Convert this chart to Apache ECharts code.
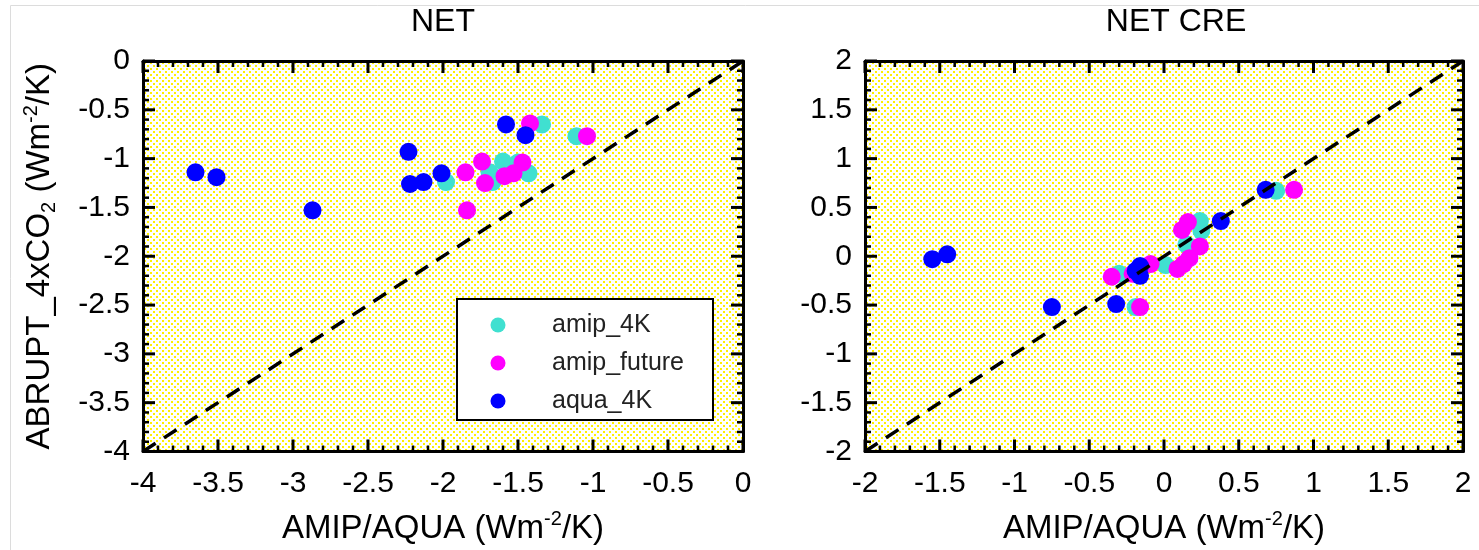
<!DOCTYPE html>
<html>
<head>
<meta charset="utf-8">
<script src="https://cdn.jsdelivr.net/npm/echarts@6/dist/echarts.min.js"></script>
<style>
  html, body { margin: 0; padding: 0; background: #fff; }
  #wrap { position: relative; width: 1479px; height: 550px; }
  #chart { position: absolute; left: 0; top: 0; width: 1479px; height: 550px; z-index: 1; }
  .panel-bg { position: absolute; z-index: 0; }
</style>
</head>
<body>
<div id="wrap">
  <div class="panel-bg" id="bg0"></div>
  <div class="panel-bg" id="bg1"></div>
  <div id="chart"></div>
</div>
<script>
// ---- data -------------------------------------------------------------
const seriesNames = ['amip_4K', 'amip_future', 'aqua_4K'];
const panelTitles = ['NET', 'NET CRE'];

// NET feedback (Wm-2/K): x = AMIP/AQUA experiment, y = abrupt 4xCO2
const netAmip4kX    = [-1.34, -1.11, -1.60, -1.50, -1.98, -1.69, -1.67, -1.43];
const netAmip4kY    = [-0.65, -0.77, -1.03, -1.04, -1.24, -1.14, -1.24, -1.15];
const netFutureX    = [-1.42, -1.04, -1.74, -1.47, -1.85, -1.72, -1.59, -1.53, -1.84];
const netFutureY    = [-0.64, -0.77, -1.03, -1.04, -1.14, -1.25, -1.18, -1.15, -1.53];
const netAqua4kX    = [-3.65, -3.51, -2.87, -2.23, -2.22, -2.13, -2.01, -1.58, -1.45];
const netAqua4kY    = [-1.14, -1.19, -1.53, -0.93, -1.26, -1.24, -1.15, -0.65, -0.76];

// NET CRE feedback (Wm-2/K)
const creAmip4kX    = [-0.19, -0.30, 0.01, 0.15, 0.24, 0.25, 0.75];
const creAmip4kY    = [-0.52, -0.18, -0.09, 0.12, 0.36, 0.26, 0.67];
const creFutureX    = [-0.16, -0.35, -0.21, -0.09, 0.09, 0.13, 0.17, 0.24, 0.16, 0.12, 0.87];
const creFutureY    = [-0.52, -0.21, -0.18, -0.08, -0.13, -0.08, -0.02, 0.10, 0.35, 0.27, 0.68];
const creAqua4kX    = [-1.55, -1.45, -0.75, -0.32, -0.19, -0.16, -0.16, 0.38, 0.68];
const creAqua4kY    = [-0.03, 0.02, -0.52, -0.49, -0.15, -0.10, -0.20, 0.36, 0.68];

// axis ranges and tick spacing
const netRange = [-4, 0];
const creRange = [-2, 2];
const tickStep = 0.5;
const minorStep = 0.1;

// ---- styling ------------------------------------------------------------
const FONT = 'Liberation Sans, Arial, Helvetica, sans-serif';
const colors = ['#40e0d0', '#ff00ff', '#0000ff'];

function zip(xs, ys) { return xs.map((x, i) => [x, ys[i]]); }

// tick positions along an axis range (every minorStep)
function tickValues(range) {
  const out = [];
  const n = Math.round((range[1] - range[0]) / minorStep);
  for (let i = 0; i <= n; i++) out.push(+(range[0] + i * minorStep).toFixed(3));
  return out;
}

// plotting boxes (layout only)
const boxes = [
  { left: 143, top: 61, width: 600, height: 392 },
  { left: 865, top: 61, width: 598, height: 392 }
];

// yellow dotted fill behind each plotting area
(function paintBackgrounds() {
  const c = document.createElement('canvas');
  c.width = 6; c.height = 6;
  const g = c.getContext('2d');
  g.fillStyle = '#ffffff';
  g.fillRect(0, 0, 6, 6);
  g.fillStyle = '#fff000';
  g.fillRect(1, 1, 2, 2);
  g.fillRect(4, 4, 2, 2);
  const url = c.toDataURL();
  boxes.forEach((b, i) => {
    const el = document.getElementById('bg' + i);
    el.style.left = b.left + 'px';
    el.style.top = b.top + 'px';
    el.style.width = b.width + 'px';
    el.style.height = b.height + 'px';
    el.style.backgroundImage = 'url(' + url + ')';
    el.style.backgroundRepeat = 'repeat';
  });
})();

const nameRich = {
  n:   { fontSize: 33, fontFamily: FONT, color: '#000', lineHeight: 38 },
  sup: { fontSize: 20, fontFamily: FONT, color: '#000', lineHeight: 20, verticalAlign: 'top' },
  sub: { fontSize: 20, fontFamily: FONT, color: '#000', lineHeight: 20, verticalAlign: 'bottom' }
};
const xName = '{n|AMIP/AQUA (Wm}{sup|-2}{n|/K)}';
const yName = '{n|ABRUPT_4xCO}{sub|2}{n| (Wm}{sup|-2}{n|/K)}';

function makeAxis(gridIndex, range, position, showLabels, name, nameGap) {
  const horizontal = (position === 'bottom' || position === 'top');
  const ax = {
    type: 'value',
    gridIndex: gridIndex,
    position: position,
    min: range[0],
    max: range[1],
    interval: tickStep,
    axisLine: { show: true, onZero: false, lineStyle: { color: '#000', width: 3 } },
    axisTick: { show: false },
    minorTick: { show: false },
    splitLine: { show: false },
    axisLabel: {
      show: showLabels, fontSize: 30, fontFamily: FONT, color: '#000',
      margin: horizontal ? 17 : 13
    }
  };
  if (name) {
    ax.name = name;
    ax.nameLocation = 'middle';
    ax.nameGap = nameGap;
    ax.nameTextStyle = { rich: nameRich };
  }
  return ax;
}

const grids = boxes.map(b => Object.assign({ show: false }, b));

const xAxes = [
  makeAxis(0, netRange, 'bottom', true, xName, 58),
  makeAxis(0, netRange, 'top', false),
  makeAxis(1, creRange, 'bottom', true, xName, 58),
  makeAxis(1, creRange, 'top', false)
];
const yAxes = [
  makeAxis(0, netRange, 'left', true, yName, 84),
  makeAxis(0, netRange, 'right', false),
  makeAxis(1, creRange, 'left', true),
  makeAxis(1, creRange, 'right', false)
];

function scatter(name, color, xi, yi, data) {
  return {
    type: 'scatter', name: name, xAxisIndex: xi, yAxisIndex: yi,
    symbol: 'circle', symbolSize: 18, data: data,
    itemStyle: { color: color, opacity: 1 }
  };
}
function diagonal(xi, yi, range) {
  return {
    type: 'line', name: 'one-to-one', xAxisIndex: xi, yAxisIndex: yi,
    data: [[range[0], range[0]], [range[1], range[1]]],
    symbol: 'none', silent: true,
    lineStyle: { color: '#000', width: 3.5, type: [15, 10] }
  };
}

const series = [
  scatter(seriesNames[0], colors[0], 0, 0, zip(netAmip4kX, netAmip4kY)),
  scatter(seriesNames[1], colors[1], 0, 0, zip(netFutureX, netFutureY)),
  scatter(seriesNames[2], colors[2], 0, 0, zip(netAqua4kX, netAqua4kY)),
  diagonal(0, 0, netRange),
  scatter(seriesNames[0], colors[0], 2, 2, zip(creAmip4kX, creAmip4kY)),
  scatter(seriesNames[1], colors[1], 2, 2, zip(creFutureX, creFutureY)),
  scatter(seriesNames[2], colors[2], 2, 2, zip(creAqua4kX, creAqua4kY)),
  diagonal(2, 2, creRange)
];

// legend box inside the NET panel
const legendBox = { x: 457, y: 299, width: 256, height: 121, rowY: [325, 363, 401], markX: 498, textX: 552 };
const legendEls = [
  { type: 'rect', silent: true, z: 20,
    shape: { x: legendBox.x, y: legendBox.y, width: legendBox.width, height: legendBox.height },
    style: { fill: '#fff', stroke: '#000', lineWidth: 2 } }
];
seriesNames.forEach((n, i) => {
  legendEls.push({ type: 'circle', silent: true, z: 21,
    shape: { cx: legendBox.markX, cy: legendBox.rowY[i], r: 7.5 }, style: { fill: colors[i] } });
  legendEls.push({ type: 'text', silent: true, z: 21, x: legendBox.textX, y: legendBox.rowY[i],
    style: { text: n, font: '25px ' + FONT, fill: '#222', align: 'left', verticalAlign: 'middle' } });
});

const chart = echarts.init(document.getElementById('chart'), null, { renderer: 'canvas' });
chart.setOption({
  animation: false,
  backgroundColor: 'transparent',
  grid: grids,
  xAxis: xAxes,
  yAxis: yAxes,
  graphic: [
    { type: 'rect', silent: true, shape: { x: 10.5, y: 5.5, width: 1500, height: 600 },
      style: { fill: 'none', stroke: '#dcdcdc', lineWidth: 1 } },
    { type: 'text', x: 443, y: 22, style: { text: panelTitles[0], font: '32px ' + FONT, fill: '#000', align: 'center', verticalAlign: 'middle' } },
    { type: 'text', x: 1176, y: 22, style: { text: panelTitles[1], font: '32px ' + FONT, fill: '#000', align: 'center', verticalAlign: 'middle' } }
  ].concat(legendEls),
  series: series
});

// inward tick marks on all four sides of each panel, placed through the axis scales
const tickEls = [];
[[0, netRange], [1, creRange]].forEach(([gi, range]) => {
  const finder = { gridIndex: gi };
  const lo = chart.convertToPixel(finder, [range[0], range[0]]);
  const hi = chart.convertToPixel(finder, [range[1], range[1]]);
  const left = lo[0], bottom = lo[1], right = hi[0], top = hi[1];
  tickValues(range).forEach(v => {
    const p = chart.convertToPixel(finder, [v, v]);
    const major = Math.abs(v / tickStep - Math.round(v / tickStep)) < 1e-6;
    const len = major ? 12 : 6;
    const style = { stroke: '#000', lineWidth: major ? 3 : 2.5 };
    [
      [p[0], bottom, p[0], bottom - len],
      [p[0], top, p[0], top + len],
      [left, p[1], left + len, p[1]],
      [right, p[1], right - len, p[1]]
    ].forEach(s => tickEls.push({
      type: 'line', silent: true, z: 15,
      shape: { x1: s[0], y1: s[1], x2: s[2], y2: s[3] }, style: style
    }));
  });
});
chart.setOption({
  graphic: [
    { type: 'rect', silent: true, shape: { x: 10.5, y: 5.5, width: 1500, height: 600 },
      style: { fill: 'none', stroke: '#dcdcdc', lineWidth: 1 } },
    { type: 'text', x: 443, y: 22, style: { text: panelTitles[0], font: '32px ' + FONT, fill: '#000', align: 'center', verticalAlign: 'middle' } },
    { type: 'text', x: 1176, y: 22, style: { text: panelTitles[1], font: '32px ' + FONT, fill: '#000', align: 'center', verticalAlign: 'middle' } }
  ].concat(legendEls).concat(tickEls)
}, { replaceMerge: ['graphic'] });
</script>
</body>
</html>
